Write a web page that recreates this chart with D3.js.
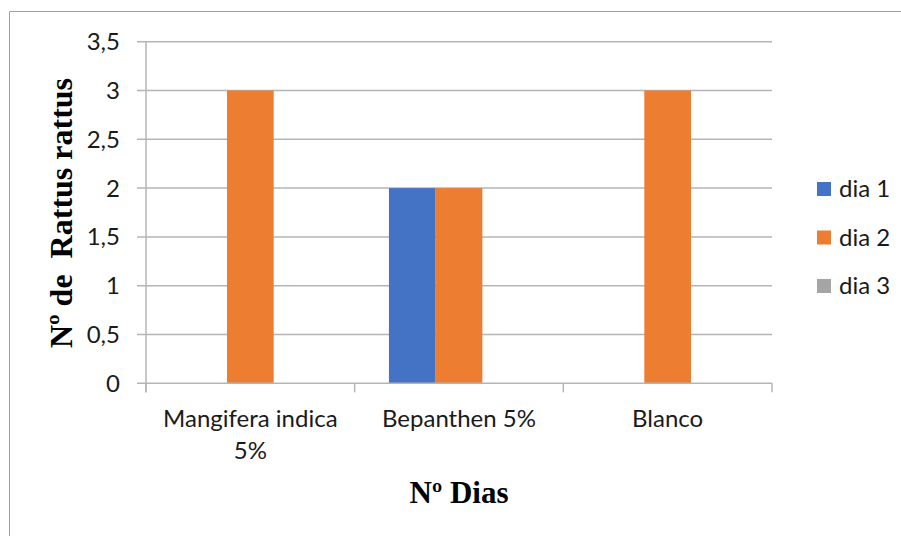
<!DOCTYPE html>
<html>
<head>
<meta charset="utf-8">
<script src="https://cdn.jsdelivr.net/npm/d3@7"></script>
<style>
  html, body { margin: 0; padding: 0; background: #fff; }
  svg { display: block; }
</style>
</head>
<body>
<svg id="chart" width="901" height="536"></svg>
<script>
// Treatment groups along the x axis
const categories = ["Mangifera indica 5%", "Bepanthen 5%", "Blanco"];
// One series per day
const seriesNames = ["dia 1", "dia 2", "dia 3"];
const dia1 = [0, 2, 0];
const dia2 = [3, 2, 3];
const dia3 = [0, 0, 0];
const seriesValues = [dia1, dia2, dia3];
const seriesColors = ["#4472C4", "#ED7D31", "#A5A5A5"];
// Value axis ticks
const yTicks = [0, 0.5, 1, 1.5, 2, 2.5, 3, 3.5];
const yTickLabels = ["0", "0,5", "1", "1,5", "2", "2,5", "3", "3,5"];

const svg = d3.select("#chart");
const sansFont = "Lato, 'Open Sans', sans-serif";
const serifFont = "'Liberation Serif', 'DejaVu Serif', serif";
const gridColor = "#b5b5b5";
const labelSize = 24;

// Chart-area frame (continues past the right and bottom edges)
svg.append("path")
  .attr("d", "M9.5,545 V11.5 H910")
  .attr("fill", "none")
  .attr("stroke", "#a0a0a0")
  .attr("stroke-width", 1);

const plot = { left: 146, right: 772, top: 41.7, bottom: 383.3 };

const x0 = d3.scaleBand()
  .domain(categories)
  .range([plot.left, plot.right])
  .paddingInner(0)
  .paddingOuter(0);

const x1 = d3.scaleBand()
  .domain(seriesNames)
  .range([0, x0.bandwidth()])
  .paddingInner(0)
  .paddingOuter(0.734);

const y = d3.scaleLinear()
  .domain([0, 3.5])
  .range([plot.bottom, plot.top]);

// Horizontal gridlines with short ticks to the left of the axis
const grid = svg.append("g");
grid.selectAll("line")
  .data(yTicks.filter(d => d > 0))
  .join("line")
  .attr("x1", plot.left - 9)
  .attr("x2", plot.right)
  .attr("y1", d => y(d))
  .attr("y2", d => y(d))
  .attr("stroke", gridColor)
  .attr("stroke-width", 1.5);

// Bars
const groups = svg.append("g")
  .selectAll("g")
  .data(categories)
  .join("g")
  .attr("transform", d => `translate(${x0(d)},0)`);

groups.selectAll("rect")
  .data((c, i) => seriesNames.map((s, j) => ({ s, v: seriesValues[j][i], color: seriesColors[j] })))
  .join("rect")
  .attr("x", d => x1(d.s))
  .attr("width", x1.bandwidth())
  .attr("y", d => y(d.v))
  .attr("height", d => y(0) - y(d.v))
  .attr("fill", d => d.color);

// Value axis line
svg.append("line")
  .attr("x1", plot.left).attr("x2", plot.left)
  .attr("y1", plot.top).attr("y2", plot.bottom + 9)
  .attr("stroke", gridColor).attr("stroke-width", 1.5);

// Category axis line and its tick marks between groups
svg.append("line")
  .attr("x1", plot.left - 9).attr("x2", plot.right)
  .attr("y1", y(0)).attr("y2", y(0))
  .attr("stroke", gridColor).attr("stroke-width", 1.5);

const boundaries = categories.map(c => x0(c)).concat([x0.range()[1]]);
svg.append("g").selectAll("line")
  .data(boundaries)
  .join("line")
  .attr("x1", d => d).attr("x2", d => d)
  .attr("y1", y(0)).attr("y2", y(0) + 9)
  .attr("stroke", gridColor).attr("stroke-width", 1.5);

// Value tick labels
svg.append("g").selectAll("text")
  .data(yTicks)
  .join("text")
  .attr("x", 120)
  .attr("y", d => y(d))
  .attr("dy", "0.35em")
  .attr("text-anchor", "end")
  .attr("font-family", sansFont)
  .attr("font-size", labelSize)
  .attr("fill", "#1a1a1a")
  .text((d, i) => yTickLabels[i]);

// Category labels, wrapped to fit their band
const catLabels = svg.append("g").selectAll("text")
  .data(categories)
  .join("text")
  .attr("x", d => x0(d) + x0.bandwidth() / 2)
  .attr("y", 427)
  .attr("text-anchor", "middle")
  .attr("font-family", sansFont)
  .attr("font-size", labelSize)
  .attr("fill", "#1a1a1a");

catLabels.each(function(d) {
  const t = d3.select(this);
  const words = d.split(" ");
  let line = [];
  let tspan = t.append("tspan").attr("x", t.attr("x")).attr("dy", 0);
  words.forEach(w => {
    line.push(w);
    tspan.text(line.join(" "));
    if (tspan.node().getComputedTextLength() > 195 && line.length > 1) {
      line.pop();
      tspan.text(line.join(" "));
      line = [w];
      tspan = t.append("tspan").attr("x", t.attr("x")).attr("dy", 31.5).text(w);
    }
  });
});

// Axis titles
svg.append("text")
  .attr("x", x0.range()[0] + (x0.range()[1] - x0.range()[0]) / 2)
  .attr("y", 503)
  .attr("text-anchor", "middle")
  .attr("font-family", serifFont)
  .attr("font-weight", "bold")
  .attr("font-size", 31)
  .attr("fill", "#000")
  .text("Nº Dias");

svg.append("text")
  .attr("transform", "translate(72,213) rotate(-90)")
  .attr("text-anchor", "middle")
  .attr("font-family", serifFont)
  .attr("font-weight", "bold")
  .attr("font-size", 32)
  .attr("fill", "#000")
  .attr("xml:space", "preserve")
  .style("white-space", "pre")
  .text("Nº de  Rattus rattus");

// Legend
const legend = svg.append("g")
  .selectAll("g")
  .data(seriesNames)
  .join("g")
  .attr("transform", (d, i) => `translate(817,${189 + i * 48.5})`);

legend.append("rect")
  .attr("x", 0).attr("y", -7)
  .attr("width", 14).attr("height", 14)
  .attr("fill", (d, i) => seriesColors[i]);

legend.append("text")
  .attr("x", 22)
  .attr("y", 0)
  .attr("dy", "0.35em")
  .attr("font-family", sansFont)
  .attr("font-size", labelSize)
  .attr("fill", "#1a1a1a")
  .text(d => d);
</script>
</body>
</html>
